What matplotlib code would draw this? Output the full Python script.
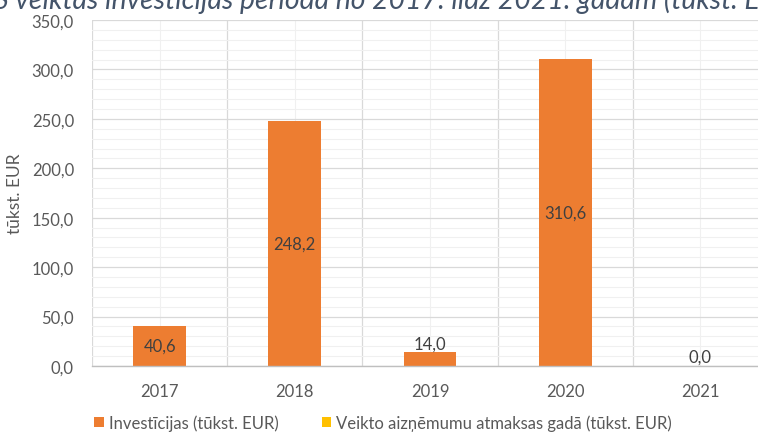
import matplotlib
matplotlib.use("Agg")
import matplotlib.pyplot as plt
import numpy as np
from matplotlib.ticker import MultipleLocator, FixedLocator, FuncFormatter

years = ["2017", "2018", "2019", "2020", "2021"]
investicijas = [40.6, 248.2, 14.0, 310.6, 0.0]
atmaksas = [0.0, 0.0, 0.0, 0.0, 0.0]
series_names = ["Investīcijas (tūkst. EUR)", "Veikto aizņēmumu atmaksas gadā (tūkst. EUR)"]
title_prefix = "ESKO / AS "
title_rest = "veiktās investīcijas periodā no 2017. līdz 2021. gadam (tūkst. EUR)"

plt.rcParams['font.family'] = ['Lato', 'DejaVu Sans']

W, H = 758, 439
fig = plt.figure(figsize=(W / 100, H / 100), dpi=100)
ax = fig.add_axes([92 / W, 1 - 367 / H, (768 - 92) / W, (367 - 21) / H])

x = np.arange(len(years))
bw = 0.39
orange = "#ED7D31"
yellow = "#FFC000"
b1 = ax.bar(x, investicijas, width=bw, color=orange, zorder=3, label=series_names[0])
b2 = ax.bar(x, atmaksas, width=bw, color=yellow, zorder=2, label=series_names[1])

def fmt(v):
    return f"{v:.1f}".replace(".", ",")

for xi, v in zip(x, investicijas):
    if v > 30:
        ax.text(xi, v / 2, fmt(v), ha="center", va="center", fontsize=12, color="#404040", zorder=4)
    else:
        ax.text(xi, v + 1, fmt(v), ha="center", va="bottom", fontsize=12, color="#404040", zorder=4)

ax.set_xlim(-0.5, len(years) - 0.5)
ax.set_ylim(0, 350)
ax.yaxis.set_major_locator(MultipleLocator(50))
ax.yaxis.set_minor_locator(MultipleLocator(10))
ax.yaxis.set_major_formatter(FuncFormatter(lambda v, p: fmt(v)))
ax.set_xticks(x)
ax.set_xticklabels(years)
ax.xaxis.set_minor_locator(FixedLocator(np.arange(-0.5, len(years), 1.0)))

ax.grid(which="major", axis="y", color="#D9D9D9", linewidth=0.9, zorder=0)
ax.grid(which="minor", axis="y", color="#F0F0F0", linewidth=0.8, zorder=0)
ax.grid(which="minor", axis="x", color="#D9D9D9", linewidth=0.9, zorder=0)
ax.grid(which="major", axis="x", color="#F0F0F0", linewidth=0.8, zorder=0)

for s in ["top", "right", "left"]:
    ax.spines[s].set_visible(False)
ax.spines["bottom"].set_color("#BFBFBF")
ax.spines["bottom"].set_linewidth(1.0)
ax.spines["bottom"].set_zorder(5)

ax.tick_params(axis="both", which="both", length=0, labelsize=12, labelcolor="#595959")
ax.tick_params(axis="x", pad=12)
ax.tick_params(axis="y", pad=13)
ax.set_ylabel("tūkst. EUR", fontsize=12.5, color="#595959", labelpad=6)

# Title (cut off at the top/left/right as in the reference)
renderer = fig.canvas.get_renderer()
probe = fig.text(0, 0, "veiktās investīcijas periodā no 2017. līdz 2021. gadam ", fontsize=10, style="italic")
w10 = probe.get_window_extent(renderer).width
probe.remove()
tfs = 10 * 649 / w10
probe = fig.text(0, 0, title_prefix, fontsize=tfs, style="italic")
wpre = probe.get_window_extent(renderer).width
probe.remove()
fig.text((15 - wpre) / W, 1 - 9 / H, title_prefix + title_rest, ha="left", va="baseline",
         fontsize=tfs, style="italic", color="#44546A")

fig.legend(handles=[b1, b2], labels=series_names, loc="center", bbox_to_anchor=(383 / W, 1 - 424 / H),
           ncol=2, frameon=False, fontsize=12, handlelength=0.55, handleheight=0.55,
           columnspacing=2.6, handletextpad=0.3, labelcolor="#595959")

fig.savefig("out.png", dpi=100)
